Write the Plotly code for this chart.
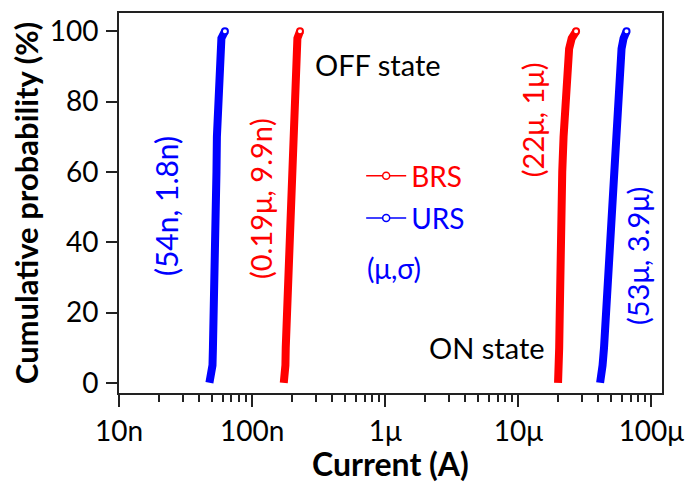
import plotly.graph_objects as go

# cumulative probability levels (%)
prob = [0, 2, 5, 10, 20, 30, 40, 50, 60, 70, 80, 90, 95, 98, 100]

# currents (A)
urs_off = [47.8e-9, 49.1e-9, 50.4e-9, 50.8e-9, 51.7e-9, 52.1e-9, 52.6e-9, 53.0e-9,
           54.0e-9, 54.4e-9, 55.4e-9, 56.3e-9, 57.3e-9, 58.8e-9, 62.5e-9]
brs_off = [173e-9, 176e-9, 178e-9, 179e-9, 183e-9, 186e-9, 189e-9, 192e-9,
           196e-9, 201e-9, 204e-9, 208e-9, 213e-9, 219e-9, 229e-9]
brs_on = [19.9e-6, 20.1e-6, 20.3e-6, 20.3e-6, 20.5e-6, 20.6e-6, 20.8e-6, 21.0e-6,
          21.4e-6, 21.9e-6, 22.5e-6, 23.3e-6, 24.1e-6, 25.2e-6, 27.2e-6]
urs_on = [41.2e-6, 42.3e-6, 43.0e-6, 44.1e-6, 45.7e-6, 47.3e-6, 48.5e-6, 49.8e-6,
          51.6e-6, 52.9e-6, 55.3e-6, 57.7e-6, 59.7e-6, 61.8e-6, 65.1e-6]

x_tickvals = [1e-8, 1e-7, 1e-6, 1e-5, 1e-4]
x_ticktext = ["10n", "100n", "1\u03bc", "10\u03bc", "100\u03bc"]
y_tickvals = [0, 20, 40, 60, 80, 100]

RED = "#FF0000"
BLUE = "#0000FF"
FONT = "Lato"

fig = go.Figure()

for xs, col in [(urs_off, BLUE), (brs_off, RED), (brs_on, RED), (urs_on, BLUE)]:
    fig.add_trace(go.Scatter(x=xs, y=prob, mode="lines", line=dict(color=col, width=8),
                             showlegend=False, hoverinfo="skip"))
    fig.add_trace(go.Scatter(x=[xs[-1]], y=[prob[-1]], mode="markers",
                             marker=dict(symbol="circle", size=6, color="white",
                                         line=dict(color=col, width=2)),
                             showlegend=False, hoverinfo="skip"))

# legend entries
fig.add_trace(go.Scatter(x=[None], y=[None], mode="lines+markers", name="BRS",
                         line=dict(color=RED, width=1.5),
                         marker=dict(symbol="circle", size=7, color="white",
                                     line=dict(color=RED, width=1.5)),
                         legend="legend"))
fig.add_trace(go.Scatter(x=[None], y=[None], mode="lines+markers", name="URS",
                         line=dict(color=BLUE, width=1.5),
                         marker=dict(symbol="circle", size=7, color="white",
                                     line=dict(color=BLUE, width=1.5)),
                         legend="legend2"))

ann_font = dict(family=FONT, size=29)
annotations = [
    dict(text="OFF state", x=0.357, y=0.865, xanchor="left", yanchor="middle",
         font=dict(**ann_font, color="black")),
    dict(text="ON state", x=0.567, y=0.119, xanchor="left", yanchor="middle",
         font=dict(**ann_font, color="black")),
    dict(text="(\u03bc,\u03c3)", x=0.453, y=0.329, xanchor="left", yanchor="middle",
         font=dict(family=FONT, size=28, color=BLUE)),
    dict(text="(54n, 1.8n)", x=0.0866, y=0.492, textangle=-90,
         xanchor="center", yanchor="middle", font=dict(family=FONT, size=30, color=BLUE)),
    dict(text="(0.19\u03bc, 9.9n)", x=0.2597, y=0.5105, textangle=-90,
         xanchor="center", yanchor="middle", font=dict(**ann_font, color=RED)),
    dict(text="(22\u03bc, 1\u03bc)", x=0.7606, y=0.718, textangle=-90,
         xanchor="center", yanchor="middle", font=dict(**ann_font, color=RED)),
    dict(text="(53\u03bc, 3.9\u03bc)", x=0.956, y=0.3608, textangle=-90,
         xanchor="center", yanchor="middle", font=dict(**ann_font, color=BLUE)),
]
for a in annotations:
    a.update(xref="paper", yref="paper", showarrow=False)

fig.update_layout(
    width=696, height=483,
    margin=dict(l=119, r=34, t=13, b=90),
    paper_bgcolor="white", plot_bgcolor="white",
    font=dict(family=FONT, size=28, color="black"),
    annotations=annotations,
    legend=dict(x=0.446, y=0.571, xanchor="left", yanchor="middle",
                bgcolor="rgba(0,0,0,0)", font=dict(family=FONT, size=28, color=RED),
                itemwidth=40),
    legend2=dict(x=0.446, y=0.46, xanchor="left", yanchor="middle",
                 bgcolor="rgba(0,0,0,0)", font=dict(family=FONT, size=28, color=BLUE),
                 itemwidth=40),
    xaxis=dict(type="log", range=[-8, -3.92], tickvals=x_tickvals, ticktext=x_ticktext,
               ticks="outside", ticklen=12, tickwidth=2, tickcolor="#222",
               showline=True, linewidth=2, linecolor="#222", mirror=True,
               showgrid=False, zeroline=False, automargin=False,
               ticklabelstandoff=0,
               minor=dict(ticks="outside", ticklen=7, tickwidth=2, tickcolor="#222",
                          tickvals=[m * 10.0 ** e for e in range(-8, -4) for m in range(2, 10)],
                          showgrid=False),
               title=dict(text="<b>Current (A)</b>", standoff=6,
                          font=dict(family=FONT, size=32))),
    yaxis=dict(range=[-2.9, 105.2], tickvals=y_tickvals,
               ticks="outside", ticklen=11, tickwidth=2, tickcolor="#222",
               showline=True, linewidth=2, linecolor="#222", mirror=True,
               showgrid=False, zeroline=False, automargin=False,
               ticklabelstandoff=2,
               title=dict(text="<b>Cumulative probability (%)</b>", standoff=2,
                          font=dict(family=FONT, size=31))),
)

fig.write_html("out.html", config={"displayModeBar": False},
               post_script="document.body.style.margin='0';document.body.style.overflow='hidden';")
